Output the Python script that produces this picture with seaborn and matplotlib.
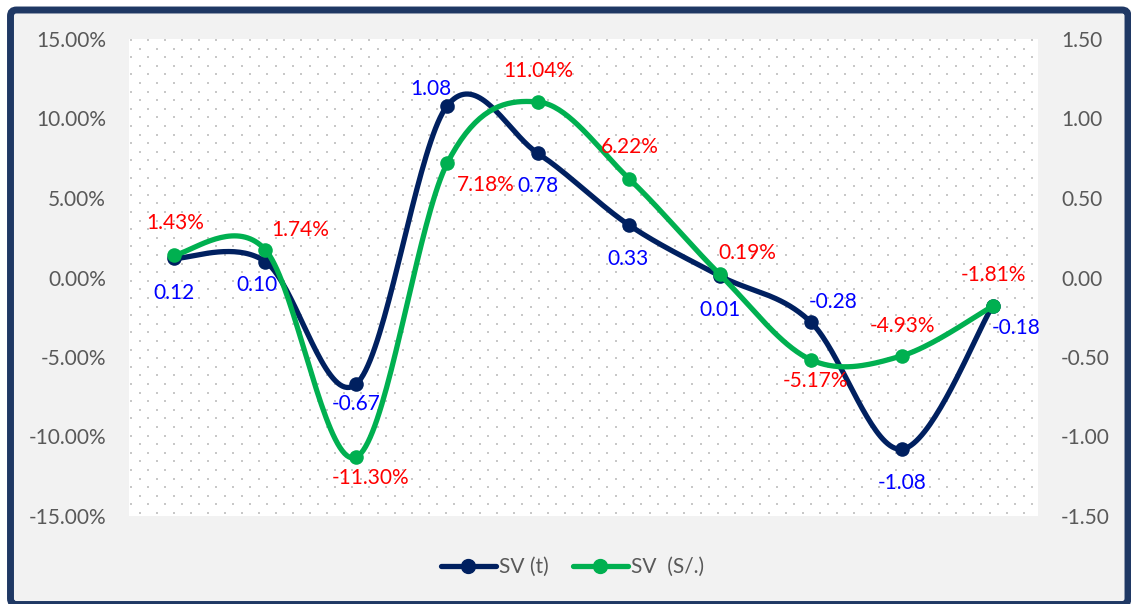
import numpy as np
import pandas as pd
import matplotlib
matplotlib.use("Agg")
import matplotlib.pyplot as plt
from matplotlib.lines import Line2D
from matplotlib.patches import FancyBboxPatch
from matplotlib.ticker import FixedLocator, FuncFormatter
import seaborn as sns

# ---- data ----
periods = list(range(10))
sv_t = [0.12, 0.10, -0.67, 1.08, 0.78, 0.33, 0.01, -0.28, -1.08, -0.18]
sv_soles_pct = [1.43, 1.74, -11.30, 7.18, 11.04, 6.22, 0.19, -5.17, -4.93, -1.81]
sv_t_labels = ["0.12", "0.10", "-0.67", "1.08", "0.78", "0.33", "0.01", "-0.28", "-1.08", "-0.18"]
sv_soles_labels = ["1.43%", "1.74%", "-11.30%", "7.18%", "11.04%", "6.22%", "0.19%", "-5.17%", "-4.93%", "-1.81%"]
left_ticks = [-15, -10, -5, 0, 5, 10, 15]
right_ticks = [-1.5, -1.0, -0.5, 0.0, 0.5, 1.0, 1.5]
series_names = ["SV (t)", "SV  (S/.)"]

# label offsets in pixels (dx, dy)
sv_t_offsets = [(0, -35), (-8, -23), (0, -20), (-16, 17), (0, -33),
                (-1, -34), (0, -34), (22, 20), (0, -34), (24, -22)]
sv_soles_offsets = [(1, 32), (35, 20), (14, -21), (39, -22), (0, 31),
                    (1, 32), (27, 21), (5, -21), (1, 30), (1, 31)]

NAVY = "#002060"
GREEN = "#00b050"
GRAY_TXT = "#595959"
FS = 15

sns.set_theme(style="white")
plt.rcParams["font.family"] = ["Lato", "DejaVu Sans"]


def smooth_curve(xv, yv, steps=40):
    """Piecewise cubic Bezier through the points (Catmull-Rom tangents)."""
    p = np.column_stack([xv, yv]).astype(float)
    ext = np.vstack([p[0], p, p[-1]])
    t = np.linspace(0, 1, steps)[:, None]
    out = []
    for i in range(len(p) - 1):
        p0 = ext[i + 1]
        p3 = ext[i + 2]
        c1 = p0 + (ext[i + 2] - ext[i]) / 6.0
        c2 = p3 - (ext[i + 3] - ext[i + 1]) / 6.0
        seg = ((1 - t) ** 3) * p0 + 3 * ((1 - t) ** 2) * t * c1 + 3 * (1 - t) * t ** 2 * c2 + t ** 3 * p3
        out.append(seg if i == 0 else seg[1:])
    out = np.vstack(out)
    return out[:, 0], out[:, 1]


W, H = 1131, 604
fig = plt.figure(figsize=(W / 100, H / 100), dpi=100)
fig.patch.set_facecolor("white")

# framed background
frame = FancyBboxPatch((10.5, -0.5), 1117.5, 594.5,
                       boxstyle="round,pad=0,rounding_size=6",
                       transform=None, facecolor="#f2f2f2",
                       edgecolor="#1f3864", linewidth=5.0, zorder=-10)
fig.patches.append(frame)

ax_left, ax_right, ax_top, ax_bot = 129, 1038, 39, 516
ax = fig.add_axes([ax_left / W, (H - ax_bot) / H, (ax_right - ax_left) / W, (ax_bot - ax_top) / H])
ax.set_facecolor("white")

# dotted texture of the plot area
pw, ph = ax_right - ax_left, ax_bot - ax_top
dx_px, dy_px = 17.0, 8.6
dots_x, dots_y = [], []
for r, yy in enumerate(np.arange(0, ph, dy_px)):
    off = 0.0 if r % 2 == 0 else dx_px / 2
    for xx in np.arange(off + 2, pw, dx_px):
        dots_x.append(xx / pw)
        dots_y.append(1 - (yy + 1) / ph)
ax.scatter(dots_x, dots_y, s=1.8, marker="s", color="#c8c8c8",
           linewidths=0, transform=ax.transAxes, zorder=0)

ax2 = ax.twinx()
ax2.set_facecolor("none")

# navy series on the right-hand scale (ax), green on the percentage scale (ax2)
ax.yaxis.tick_right()
ax2.yaxis.tick_left()

xs, ys = smooth_curve(periods, sv_t)
sns.lineplot(x=xs, y=ys, sort=False, estimator=None, ax=ax, color=NAVY,
             linewidth=3.8, legend=False, zorder=3)
sns.scatterplot(x=periods, y=sv_t, ax=ax, color=NAVY, s=110,
                linewidth=0, legend=False, zorder=4)

xg, yg = smooth_curve(periods, sv_soles_pct)
sns.lineplot(x=xg, y=yg, sort=False, estimator=None, ax=ax2, color=GREEN,
             linewidth=3.8, legend=False, zorder=3)
sns.scatterplot(x=periods, y=sv_soles_pct, ax=ax2, color=GREEN, s=110,
                linewidth=0, legend=False, zorder=4)

for xi, yi, lab, (ox, oy) in zip(periods, sv_t, sv_t_labels, sv_t_offsets):
    ax.annotate(lab, (xi, yi), xytext=(ox, oy), textcoords="offset pixels",
                ha="center", va="center", color="#0000ff", fontsize=FS, zorder=6)
for xi, yi, lab, (ox, oy) in zip(periods, sv_soles_pct, sv_soles_labels, sv_soles_offsets):
    ax2.annotate(lab, (xi, yi), xytext=(ox, oy), textcoords="offset pixels",
                 ha="center", va="center", color="#ff0000", fontsize=FS, zorder=6)

for a in (ax, ax2):
    a.set_xlim(-0.5, 9.5)
    a.set_xticks([])
    for s in a.spines.values():
        s.set_visible(False)
    a.grid(False)
    a.set_xlabel("")
    a.set_ylabel("")

ax.set_ylim(-1.5, 1.5)
ax2.set_ylim(-15, 15)
ax.yaxis.set_major_locator(FixedLocator(right_ticks))
ax.yaxis.set_major_formatter(FuncFormatter(lambda v, p: f"{v:.2f}"))
ax2.yaxis.set_major_locator(FixedLocator(left_ticks))
ax2.yaxis.set_major_formatter(FuncFormatter(lambda v, p: f"{v:.2f}%"))
ax.tick_params(axis="y", which="both", length=0, pad=16.5, labelsize=FS, labelcolor=GRAY_TXT,
               left=False, right=False, labelleft=False, labelright=True)
ax2.tick_params(axis="y", which="both", length=0, pad=16.5, labelsize=FS, labelcolor=GRAY_TXT,
                left=False, right=False, labelleft=True, labelright=False)

handles = [Line2D([], [], color=NAVY, lw=3.8, marker="o", markersize=10),
           Line2D([], [], color=GREEN, lw=3.8, marker="o", markersize=10)]
fig.legend(handles, series_names, loc="center", bbox_to_anchor=(0.506, 0.061),
           ncol=2, frameon=False, fontsize=FS, labelcolor=GRAY_TXT,
           handlelength=2.65, handletextpad=0.15, columnspacing=1.15)

fig.savefig("out.png", dpi=100, facecolor=fig.get_facecolor())
